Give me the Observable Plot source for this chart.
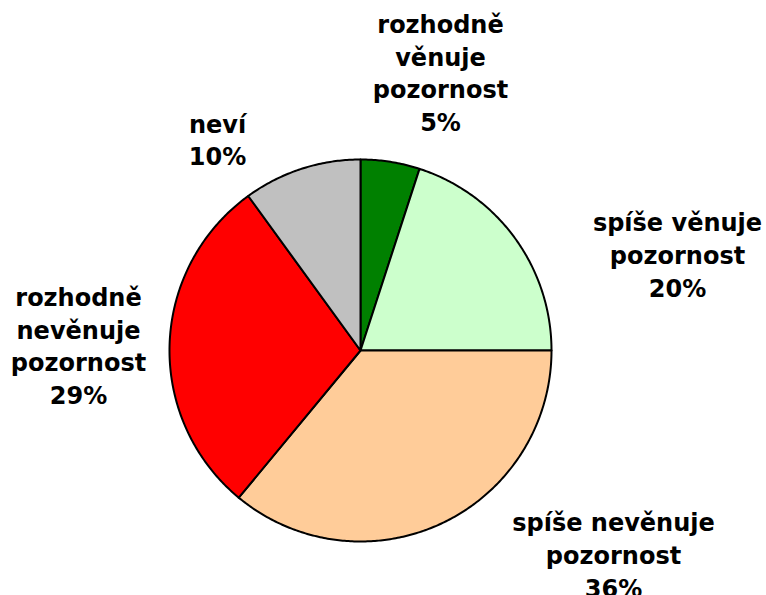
<!DOCTYPE html>
<html>
<head>
<meta charset="utf-8">
<script src="https://cdn.jsdelivr.net/npm/d3@7"></script>
<script src="https://cdn.jsdelivr.net/npm/@observablehq/plot@0.6"></script>
<style>
  html, body { margin: 0; padding: 0; background: #fff; }
  #chart svg { display: block; }
</style>
</head>
<body>
<div id="chart"></div>
<script>
// Data
const categories = ["rozhodně věnuje pozornost", "spíše věnuje pozornost", "spíše nevěnuje pozornost", "rozhodně nevěnuje pozornost", "neví"];
const values = [5, 20, 36, 29, 10];
const labelTexts = [
  "rozhodně\nvěnuje\npozornost\n5%",
  "spíše věnuje\npozornost\n20%",
  "spíše nevěnuje\npozornost\n36%",
  "rozhodně\nnevěnuje\npozornost\n29%",
  "neví\n10%"
];
const colors = ["#008000", "#CCFFCC", "#FFCC99", "#FF0000", "#C0C0C0"];

// Layout (pixel positions of label block centres)
const W = 766, H = 595;
const cx = 360, cy = 350, R = 191;
const labelPx = [[440, 71], [677, 253], [613, 553], [78, 344], [217, 138]];

const arcs = d3.pie().sort(null).value(d => d.value)(categories.map((c, i) => ({category: c, value: values[i]})));
const slicePts = [];
arcs.forEach(a => {
  const n = Math.max(4, Math.ceil((a.endAngle - a.startAngle) / 0.01));
  slicePts.push({category: a.data.category, x: 0, y: 0});
  for (let k = 0; k <= n; k++) {
    const t = a.startAngle + (a.endAngle - a.startAngle) * k / n;
    slicePts.push({category: a.data.category, x: Math.sin(t), y: Math.cos(t)});
  }
});

const labels = labelTexts.map((t, i) => ({
  text: t,
  x: (labelPx[i][0] - cx) / R,
  y: (cy - labelPx[i][1]) / R
}));

const chart = Plot.plot({
  width: W,
  height: H,
  marginLeft: cx - R,
  marginRight: W - (cx + R),
  marginTop: cy - R,
  marginBottom: H - (cy + R),
  x: {domain: [-1, 1], axis: null},
  y: {domain: [-1, 1], axis: null},
  color: {domain: categories, range: colors},
  style: {fontFamily: "'DejaVu Sans', Verdana, sans-serif", background: "#fff"},
  marks: [
    Plot.line(slicePts, {
      x: "x", y: "y", z: "category",
      fill: "category",
      stroke: "black", strokeWidth: 2,
      curve: "linear-closed",
      strokeLinejoin: "round"
    }),
    Plot.text(labels, {
      x: "x", y: "y", text: "text",
      fontSize: 24, fontWeight: "bold", fill: "black",
      lineHeight: 1.36, textAnchor: "middle"
    })
  ]
});
document.getElementById("chart").appendChild(chart);
</script>
</body>
</html>
